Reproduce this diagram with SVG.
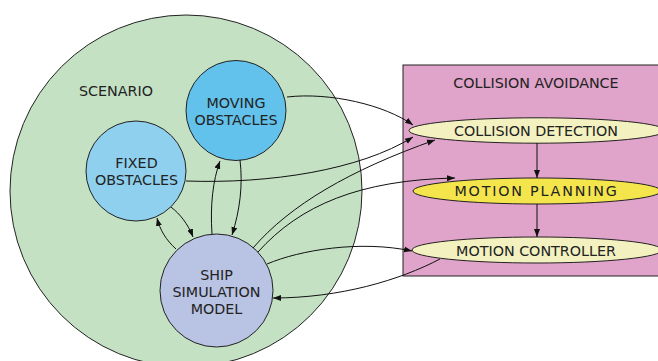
<svg xmlns="http://www.w3.org/2000/svg" width="658" height="361" viewBox="0 0 658 361">
  <style>
    text { font-family: "DejaVu Sans", "Liberation Sans", sans-serif; font-size: 14.3px; fill: #222; text-anchor: middle; }
    .node { stroke: #222; stroke-width: 1; }
    .edge { fill: none; stroke: #111; stroke-width: 1; marker-end: url(#arrow); }
  </style>
  <defs>
    <marker id="arrow" markerUnits="userSpaceOnUse" markerWidth="9" markerHeight="7" refX="8" refY="3.5" orient="auto">
      <path d="M0,0.5 L8,3.5 L0,6.5 Z" fill="#111"/>
    </marker>
  </defs>

  <rect width="658" height="361" fill="#ffffff"/>

  <!-- scenario container -->
  <g id="scenario">
    <circle class="node" cx="186" cy="191" r="176" fill="#c4e1c4"/>
    <text x="116" y="96">SCENARIO</text>
  </g>

  <!-- collision avoidance container -->
  <g id="collision-avoidance">
    <rect class="node" x="403" y="65" width="260" height="211" fill="#e0a3c9" stroke="#555"/>
    <text x="536" y="88">COLLISION AVOIDANCE</text>
  </g>

  <g id="moving-obstacles">
    <circle class="node" cx="236" cy="110.5" r="50" fill="#63c2ec"/>
    <text x="236" y="107.5">MOVING</text>
    <text x="236" y="124.5">OBSTACLES</text>
  </g>

  <g id="fixed-obstacles">
    <circle class="node" cx="136" cy="171" r="50" fill="#8ed0ee"/>
    <text x="136.5" y="168">FIXED</text>
    <text x="136.5" y="184.5">OBSTACLES</text>
  </g>

  <g id="ship-simulation-model">
    <circle class="node" cx="216.5" cy="290.5" r="56.5" fill="#b9c3e3"/>
    <text x="216.5" y="280">SHIP</text>
    <text x="216.5" y="297">SIMULATION</text>
    <text x="216.5" y="313.5">MODEL</text>
  </g>

  <g id="collision-detection">
    <ellipse class="node" cx="537" cy="130.5" rx="128" ry="12.7" fill="#f3f1c0"/>
    <text x="536" y="136">COLLISION DETECTION</text>
  </g>

  <g id="motion-planning">
    <ellipse class="node" cx="537" cy="191" rx="124" ry="13" fill="#f4e54c"/>
    <text x="536.5" y="196" style="letter-spacing:1.8px">MOTION PLANNING</text>
  </g>

  <g id="motion-controller">
    <ellipse class="node" cx="537" cy="250" rx="125" ry="13" fill="#f3f1c0"/>
    <text x="536" y="256">MOTION CONTROLLER</text>
  </g>

  <!-- connectors -->
  <g id="connectors">
    <path class="edge" d="M287,97 C330,92 385,105 413,125"/>
    <path class="edge" d="M186,181 C270,184 360,170 413,137"/>
    <path class="edge" d="M253,248 C290,205 350,170 435,140"/>
    <path class="edge" d="M258,252 C300,205 360,180 455,178"/>
    <path class="edge" d="M267,264 C300,250 360,240 412,251"/>
    <path class="edge" d="M440,259 C400,280 340,298 273,298"/>
    <path class="edge" d="M537,143 L537,178"/>
    <path class="edge" d="M537,204 L537,237"/>
    <path class="edge" d="M176,249 C166,240 160,230 157,218"/>
    <path class="edge" d="M171,207 C180,214 188,224 193,237"/>
    <path class="edge" d="M212,234 C210,205 213,180 220,161"/>
    <path class="edge" d="M240,160 C243,185 240,210 232,235"/>
  </g>
</svg>
